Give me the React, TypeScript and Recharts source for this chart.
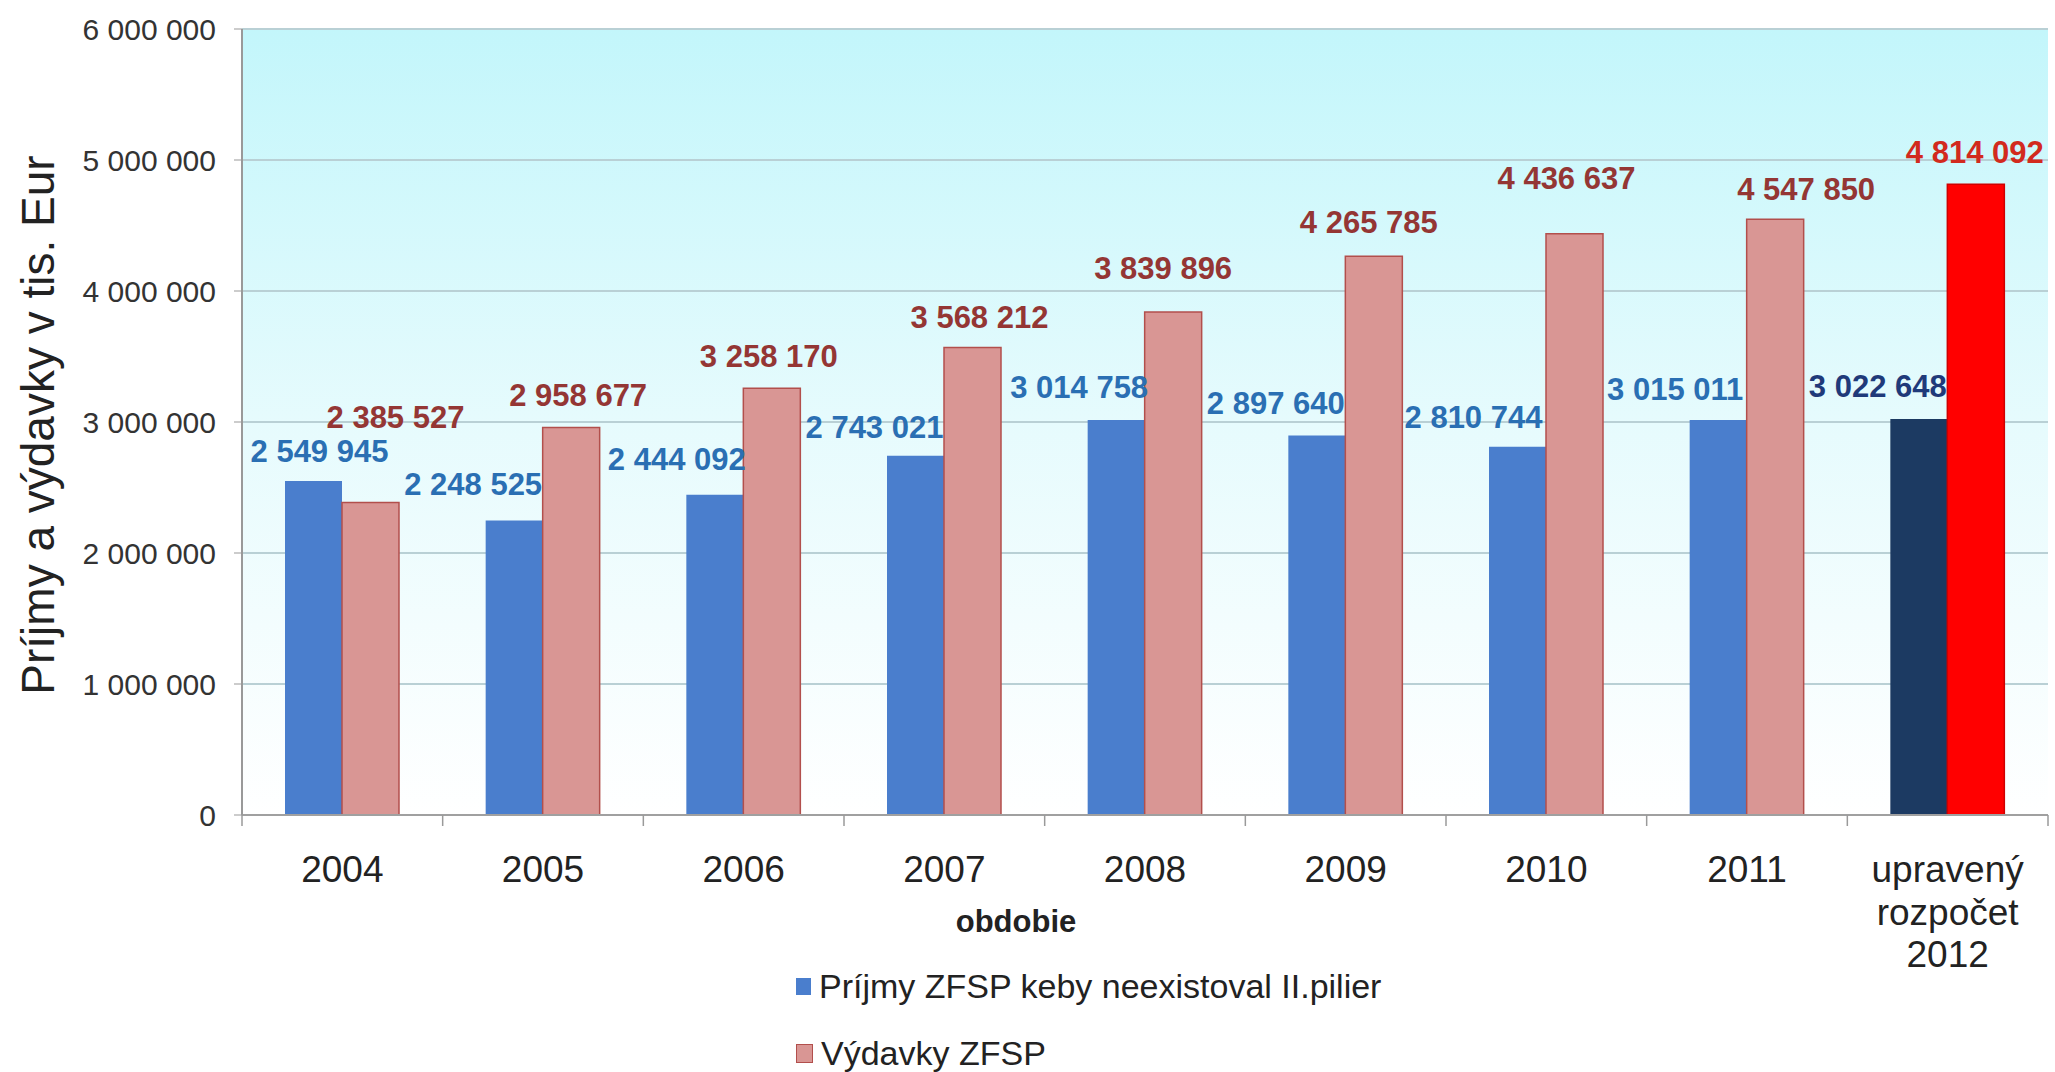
import React from "react";
import { BarChart, Bar, XAxis, YAxis, CartesianGrid, Cell, Legend, Label } from "recharts";

const categories = ["2004", "2005", "2006", "2007", "2008", "2009", "2010", "2011", "upravený rozpočet 2012"];
const prijmy = [2549945, 2248525, 2444092, 2743021, 3014758, 2897640, 2810744, 3015011, 3022648];
const vydavky = [2385527, 2958677, 3258170, 3568212, 3839896, 4265785, 4436637, 4547850, 4814092];
const yTicks = [0, 1000000, 2000000, 3000000, 4000000, 5000000, 6000000];

// hand-placed data labels in the original: [shift from bar centre, gap above bar top]
const prijmyLabelShift = [[6, 19], [-41, 25], [-38, 25], [-41, 18], [-37, 22], [-41, 21], [-44, 19], [-43, 20], [-41, 22]];
const vydavkyLabelShift = [[25, 74], [7, 21], [-3, 21], [7, 20], [-10, 33], [-5, 23], [-8, 45], [31, 19], [-1, 21]];

const data = categories.map((c, i) => ({ name: c, prijmy: prijmy[i], vydavky: vydavky[i] }));

const W = 2055;
const H = 1072;
const PLOT_LEFT = 242;
const PLOT_RIGHT = 2048;
const PLOT_TOP = 29;
const PLOT_BOTTOM = 815;
const X_AXIS_H = 100;
const STEP = (PLOT_RIGHT - PLOT_LEFT) / categories.length;
const LAST = categories.length - 1;

const FONT = "'Liberation Sans', Arial, sans-serif";
const BLUE = "#4A7ECD";
const PINK = "#D99694";
const PINK_EDGE = "#B24F4C";
const NAVY = "#1C3A62";
const RED = "#FF0000";

const fmt = (v: number) => String(v).replace(/\B(?=(\d{3})+(?!\d))/g, " ");

const makeLabel = (shifts: number[][], color: string, lastColor: string) => (props: any) => {
  const { x, y, width, value, index } = props;
  const [dx, gap] = shifts[index];
  return (
    <text
      x={x + width / 2 + dx}
      y={y - gap}
      textAnchor="middle"
      fill={index === LAST ? lastColor : color}
      fontSize={31}
      fontWeight="bold"
      fontFamily={FONT}
    >
      {fmt(value)}
    </text>
  );
};

function XTick(props: any) {
  const { x, y, payload, index } = props;
  const lines = String(payload.value).split(" ");
  return (
    <g>
      <line x1={x - STEP / 2} y1={y} x2={x - STEP / 2} y2={y + 11} stroke="#9A9A9A" strokeWidth={1.5} />
      {index === LAST && (
        <line x1={x + STEP / 2} y1={y} x2={x + STEP / 2} y2={y + 11} stroke="#9A9A9A" strokeWidth={1.5} />
      )}
      {lines.map((l, i) => (
        <text key={i} x={x} y={y + 67 + i * 42.5} textAnchor="middle" fontSize={37} fill="#222" fontFamily={FONT}>
          {l}
        </text>
      ))}
    </g>
  );
}

function LegendBox(props: any) {
  const { payload } = props;
  return (
    <div style={{ fontFamily: FONT, fontSize: 34, color: "#222" }}>
      {payload.map((p: any, i: number) => (
        <div key={i} style={{ display: "flex", alignItems: "center", height: 67, whiteSpace: "nowrap" }}>
          <span
            style={{
              display: "inline-block",
              width: 15,
              height: 17,
              marginRight: 8,
              background: p.color,
              border: i === 1 ? `1.5px solid ${PINK_EDGE}` : "none",
            }}
          />
          {p.value}
        </div>
      ))}
    </div>
  );
}

export default function App() {
  return (
    <div style={{ position: "absolute", left: 0, top: 0, width: W, height: H, background: "#fff" }}>
      <BarChart
        width={W}
        height={H}
        data={data}
        barGap={0}
        barSize={57}
        margin={{ top: PLOT_TOP, right: W - PLOT_RIGHT, bottom: H - PLOT_BOTTOM - X_AXIS_H, left: PLOT_LEFT - 200 }}
      >
        <defs>
          <linearGradient id="plotBg" x1="0" y1="0" x2="0" y2="1">
            <stop offset="0%" stopColor="#C3F6FB" />
            <stop offset="50%" stopColor="#E6FBFD" />
            <stop offset="100%" stopColor="#FFFFFF" />
          </linearGradient>
        </defs>
        <CartesianGrid vertical={false} stroke="#B9D0D5" strokeWidth={2} fill="url(#plotBg)" />
        <XAxis
          dataKey="name"
          height={X_AXIS_H}
          interval={0}
          tickLine={false}
          tickSize={0}
          tickMargin={0}
          axisLine={{ stroke: "#A0A0A0", strokeWidth: 2 }}
          tick={<XTick />}
        >
          <Label
            content={(p: any) => (
              <text
                x={p.viewBox.x + 774}
                y={p.viewBox.y + 117}
                textAnchor="middle"
                fontSize={31}
                fontWeight="bold"
                fill="#222"
                fontFamily={FONT}
              >
                obdobie
              </text>
            )}
          />
        </XAxis>
        <YAxis
          width={200}
          domain={[0, 6000000]}
          ticks={yTicks}
          interval={0}
          tickSize={8}
          tickMargin={18}
          tickFormatter={fmt}
          tick={{ fontSize: 30, fill: "#333", fontFamily: FONT }}
          tickLine={{ stroke: "#999" }}
          axisLine={{ stroke: "#999", strokeWidth: 2 }}
        >
          <Label
            content={() => {
              const cx = 38;
              const cy = 425;
              return (
                <text
                  x={cx}
                  y={cy}
                  transform={`rotate(-90, ${cx}, ${cy})`}
                  textAnchor="middle"
                  dominantBaseline="central"
                  fontSize={46}
                  fill="#222"
                  fontFamily={FONT}
                >
                  Príjmy a výdavky v tis. Eur
                </text>
              );
            }}
          />
        </YAxis>
        <Legend
          layout="vertical"
          align="center"
          verticalAlign="middle"
          wrapperStyle={{ left: 796, top: 953, width: 700 }}
          content={<LegendBox />}
        />
        <Bar
          dataKey="prijmy"
          name="Príjmy ZFSP keby neexistoval II.pilier"
          fill={BLUE}
          isAnimationActive={false}
          label={makeLabel(prijmyLabelShift, "#2A6FB3", "#1F3A7A")}
        >
          {data.map((_, i) => (
            <Cell key={i} fill={i === LAST ? NAVY : BLUE} />
          ))}
        </Bar>
        <Bar
          dataKey="vydavky"
          name="Výdavky ZFSP"
          fill={PINK}
          stroke={PINK_EDGE}
          strokeWidth={1.5}
          isAnimationActive={false}
          label={makeLabel(vydavkyLabelShift, "#943634", "#D22A1E")}
        >
          {data.map((_, i) => (
            <Cell key={i} fill={i === LAST ? RED : PINK} stroke={i === LAST ? "#D00000" : PINK_EDGE} />
          ))}
        </Bar>
      </BarChart>
    </div>
  );
}
